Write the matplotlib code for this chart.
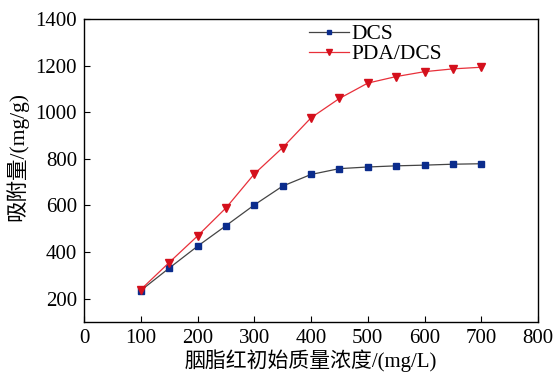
import matplotlib
matplotlib.use('Agg')
import matplotlib.pyplot as plt

plt.rcParams['font.family'] = ['Liberation Serif', 'Noto Sans CJK SC']
plt.rcParams['mathtext.fontset'] = 'stix'

conc = [100, 150, 200, 250, 300, 350, 400, 450, 500, 550, 600, 650, 700]
dcs = [235, 331, 425, 513, 602, 683, 733, 758, 765, 770, 773, 777, 779]
pda_dcs = [239, 355, 469, 589, 735, 848, 976, 1059, 1125, 1153, 1174, 1186, 1193]

fig = plt.figure(figsize=(5.58, 3.74), dpi=100)
ax = fig.add_axes([84 / 558, 1 - 322 / 374, 454 / 558, 303 / 374])

ax.plot(conc, dcs, color='#444444', lw=0.9, marker='s', ms=4.2,
        mfc='#0b2c8c', mec='#0b2c8c', label='DCS')
ax.plot(conc, pda_dcs, color='#e8303a', lw=0.9, marker='v', ms=5.5,
        mfc='#d4101c', mec='#d4101c', label='PDA/DCS')

ax.set_xlim(0, 800)
ax.set_ylim(100, 1400)
ax.set_xticks(range(0, 801, 100))
ax.set_yticks(range(200, 1401, 200))
ax.tick_params(direction='in', length=4, width=0.8, labelsize=15, pad=5,
               top=False, right=False)
for s in ax.spines.values():
    s.set_linewidth(1.0)

ax.set_xlabel('胭脂红初始质量浓度/(mg/L)', fontsize=15, labelpad=1)
ax.set_ylabel('吸附量/(mg/g)', fontsize=15.5)
ax.yaxis.set_label_coords(-0.122, 0.545)

leg = ax.legend(loc='upper left', bbox_to_anchor=(0.468, 1.025), frameon=False,
                fontsize=15.5, handlelength=1.85, handletextpad=0.12,
                labelspacing=0.0, borderaxespad=0.2, markerscale=0.8)

fig.savefig('out.png', dpi=100)
